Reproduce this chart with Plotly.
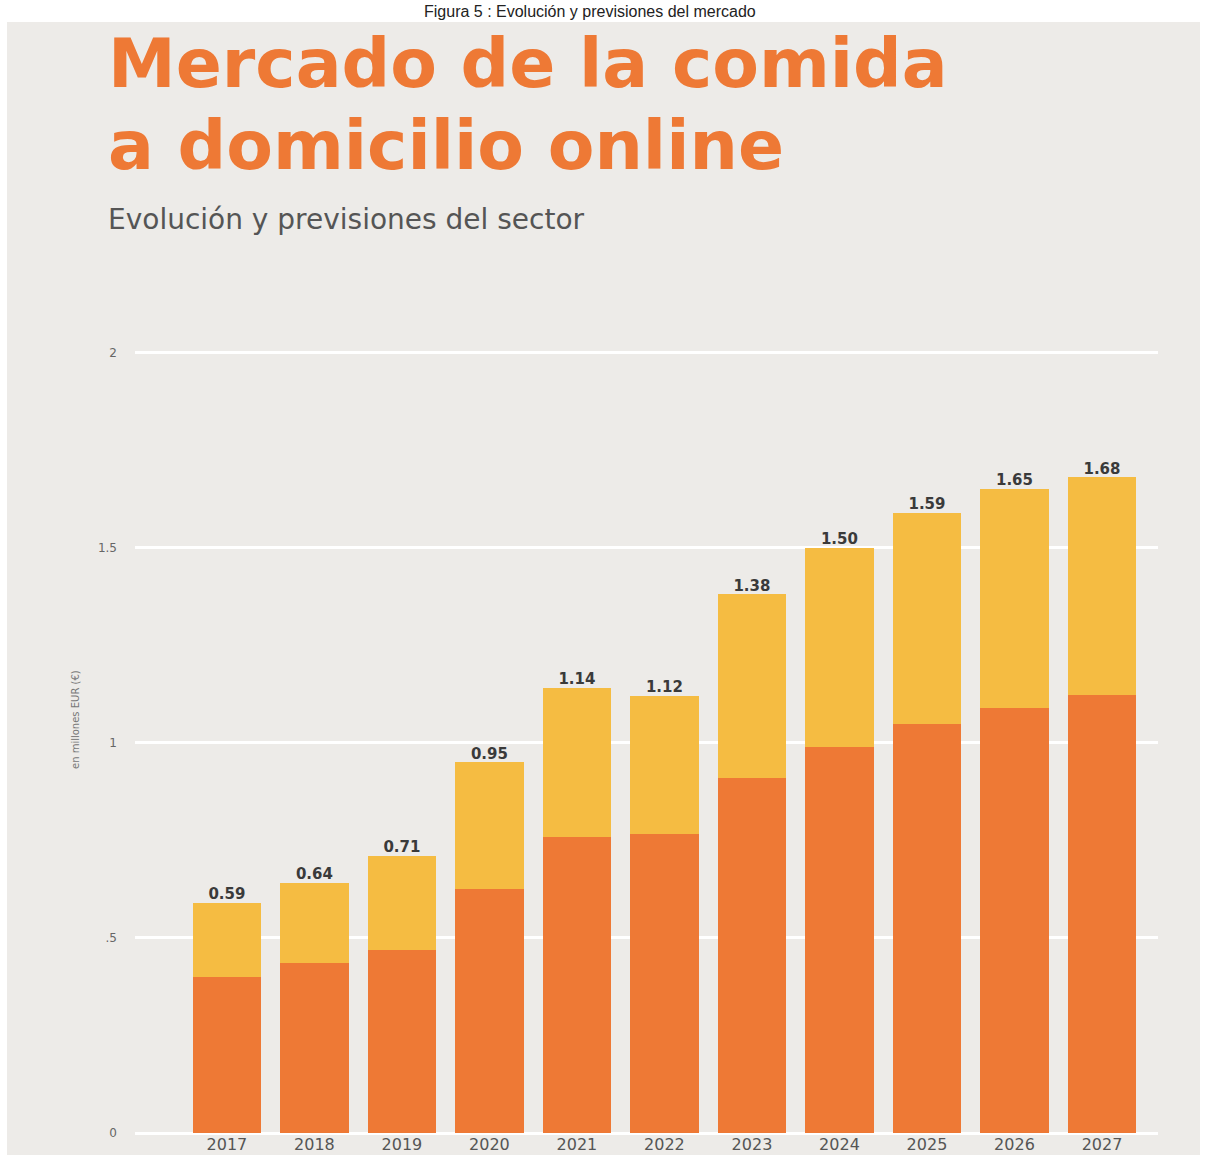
import plotly.graph_objects as go

# Market data (millions EUR)
years = ["2017", "2018", "2019", "2020", "2021", "2022", "2023", "2024", "2025", "2026", "2027"]
base_values = [0.40, 0.435, 0.47, 0.625, 0.758, 0.765, 0.91, 0.99, 1.048, 1.09, 1.122]
totals = [0.59, 0.64, 0.71, 0.95, 1.14, 1.12, 1.38, 1.50, 1.59, 1.65, 1.68]
top_values = [round(t - b, 3) for t, b in zip(totals, base_values)]
total_labels = ["0.59", "0.64", "0.71", "0.95", "1.14", "1.12", "1.38", "1.50", "1.59", "1.65", "1.68"]
y_tick_vals = [0, 0.5, 1, 1.5, 2]
y_tick_text = ["0", ".5", "1", "1.5", "2"]

W, H = 1208, 1155
ORANGE = "#EE7935"
YELLOW = "#F5BC42"
PANEL = "#EDEBE8"

fig = go.Figure()
fig.add_trace(go.Bar(x=years, y=base_values, marker=dict(color=ORANGE, line=dict(width=0)),
                     hoverinfo="skip", showlegend=False))
fig.add_trace(go.Bar(x=years, y=top_values, marker=dict(color=YELLOW, line=dict(width=0)),
                     hoverinfo="skip", showlegend=False))
fig.add_trace(go.Scatter(x=years, y=totals, mode="text", text=total_labels,
                         textposition="top center",
                         textfont=dict(family="DejaVu Sans", size=15, color="#3a3a3a", weight="bold"),
                         hoverinfo="skip", showlegend=False))

left, right, top, bottom = 135, 50, 333, 22
pw, ph = W - left - right, H - top - bottom


def px_x(x):
    return (x - left) / pw


def px_y(y):
    return (H - y - bottom) / ph


fig.update_layout(
    width=W, height=H,
    margin=dict(l=left, r=right, t=top, b=bottom, autoexpand=False),
    paper_bgcolor="white",
    plot_bgcolor=PANEL,
    barmode="stack",
    bargap=0.22,
    xaxis=dict(range=[-1.05, 10.64], showgrid=False, zeroline=False, showline=False,
               automargin=False,
               tickfont=dict(family="DejaVu Sans", size=16, color="#555555"), ticks=""),
    yaxis=dict(range=[0, 2.05], tickvals=y_tick_vals, ticktext=y_tick_text,
               showgrid=True, gridcolor="white", gridwidth=3, zeroline=True,
               zerolinecolor="white", zerolinewidth=3, showline=False, automargin=False,
               tickfont=dict(family="DejaVu Sans", size=12, color="#666666"),
               ticklabelstandoff=17),
    shapes=[dict(type="rect", xref="paper", yref="paper", layer="below",
                 x0=px_x(7), x1=px_x(W - 8), y0=px_y(H), y1=px_y(22),
                 fillcolor=PANEL, line=dict(width=0))],
    annotations=[
        dict(text="Figura 5 : Evolución y previsiones del mercado", xref="paper", yref="paper",
             x=px_x(590), y=px_y(1), xanchor="center", yanchor="top", showarrow=False,
             font=dict(family="Liberation Sans", size=16, color="#222222")),
        dict(text="Mercado de la comida", xref="paper", yref="paper",
             x=px_x(106), y=px_y(22), xanchor="left", yanchor="top", showarrow=False,
             font=dict(family="DejaVu Sans", size=68, color=ORANGE, weight="bold")),
        dict(text="a domicilio online", xref="paper", yref="paper",
             x=px_x(106), y=px_y(104), xanchor="left", yanchor="top", showarrow=False,
             font=dict(family="DejaVu Sans", size=68, color=ORANGE, weight="bold")),
        dict(text="Evolución y previsiones del sector", xref="paper", yref="paper",
             x=px_x(106), y=px_y(201), xanchor="left", yanchor="top", showarrow=False,
             font=dict(family="DejaVu Sans", size=28, color="#555555")),
        dict(text="en millones EUR (€)", xref="paper", yref="paper", textangle=-90,
             x=px_x(75), y=px_y(720), xanchor="center", yanchor="middle", showarrow=False,
             font=dict(family="DejaVu Sans", size=10, color="#777777")),
    ],
)

fig.write_html("out.html")
